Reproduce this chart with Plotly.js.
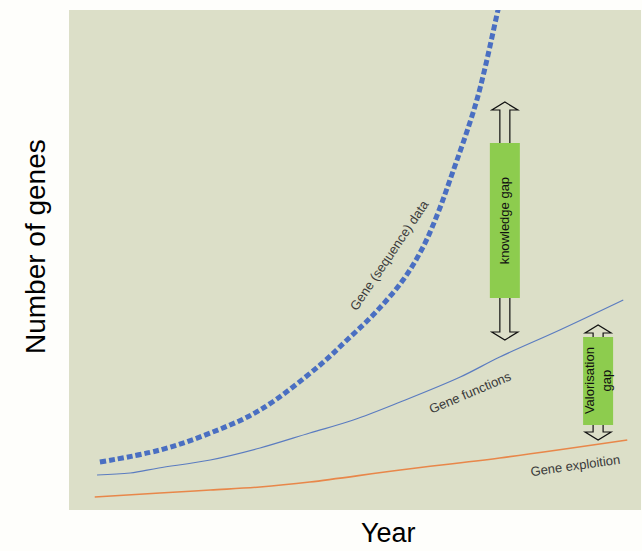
<!DOCTYPE html>
<html>
<head>
<meta charset="utf-8">
<script src="https://cdn.plot.ly/plotly-3.0.1.min.js"></script>
<style>html,body{margin:0;padding:0;background:#fff;}#chart{width:642px;height:551px;}</style>
</head>
<body>
<div id="chart"></div>
<script>
// Series (arbitrary units: year 0-100, number of genes 0-100)
const seqX = [5.4, 15.9, 24.7, 33.4, 43.9, 48.6, 53.5, 58.4, 61.9, 64.5, 66.6, 71.3, 75.0, 75.8];
const seqY = [9.6, 12.0, 15.4, 20.0, 29.0, 34.0, 39.4, 46.0, 52.6, 59.4, 66.0, 82.0, 100.0, 104.0];

const funcX = [4.9, 10.7, 15.7, 24.7, 33.4, 42.1, 49.7, 57.9, 68.4, 75.3, 85.8, 96.9];
const funcY = [7.0, 7.4, 8.4, 10.0, 12.4, 15.4, 18.0, 21.6, 26.6, 30.6, 36.0, 42.0];

const explX = [4.5, 15.9, 24.7, 33.4, 42.1, 57.9, 75.3, 97.6];
const explY = [2.6, 3.4, 4.0, 4.6, 5.6, 8.0, 10.4, 14.0];

// Gap markers: [centre x, box bottom, box top, lower arrow tip, upper arrow tip]
const knowledgeGap = [76.2, 42.4, 73.4, 34.0, 81.6];
const valorisationGap = [92.5, 17.0, 34.6, 14.0, 37.0];

const labels = ["Gene (sequence) data", "Gene functions", "Gene exploition", "knowledge gap", "Valorisation<br>gap"];
const axisTitles = ["Year", "Number of genes"];

const traces = [
  {x: seqX, y: seqY, mode: 'lines', line: {color: '#4a6fc2', width: 5, dash: '6px,3px', shape: 'spline'}, hoverinfo: 'skip'},
  {x: funcX, y: funcY, mode: 'lines', line: {color: '#5b7cc0', width: 1.2, shape: 'spline'}, hoverinfo: 'skip'},
  {x: explX, y: explY, mode: 'lines', line: {color: '#e8874a', width: 1.6, shape: 'spline'}, hoverinfo: 'skip'}
];

// convert px sizes to data units (plot area 572 x 500 px over 100 x 100 units)
const pxX = 100 / 572, pxY = 100 / 500;

function gapShapes(g) {
  const cx = g[0], lo = g[1], hi = g[2], tipLo = g[3], tipHi = g[4];
  const bw = 15 * pxX, sw = 5 * pxX, hw = 13 * pxX, hh = 8 * pxY;
  const up = `M ${cx - sw} ${hi} L ${cx - sw} ${tipHi - hh} L ${cx - hw} ${tipHi - hh} L ${cx} ${tipHi} L ${cx + hw} ${tipHi - hh} L ${cx + sw} ${tipHi - hh} L ${cx + sw} ${hi}`;
  const dn = `M ${cx - sw} ${lo} L ${cx - sw} ${tipLo + hh} L ${cx - hw} ${tipLo + hh} L ${cx} ${tipLo} L ${cx + hw} ${tipLo + hh} L ${cx + sw} ${tipLo + hh} L ${cx + sw} ${lo}`;
  return [
    {type: 'path', xref: 'x', yref: 'y', path: up, line: {color: '#111', width: 1.2}},
    {type: 'path', xref: 'x', yref: 'y', path: dn, line: {color: '#111', width: 1.2}},
    {type: 'rect', xref: 'x', yref: 'y', x0: cx - bw, x1: cx + bw, y0: lo, y1: hi, fillcolor: '#8dcc4e', line: {width: 0}}
  ];
}

const FF = 'Liberation Sans, Arial, sans-serif';
const lblFont = {family: FF, size: 13, color: '#3a3a3a'};
const gapFont = {family: FF, size: 13, color: '#111'};
const annotations = [
  {x: 55.9, y: 51.0, text: labels[0], textangle: -56, showarrow: false, font: lblFont},
  {x: 70.1, y: 23.6, text: labels[1], textangle: -23, showarrow: false, font: lblFont},
  {x: 88.5, y: 9.0, text: labels[2], textangle: -8, showarrow: false, font: lblFont},
  {x: knowledgeGap[0], y: (knowledgeGap[1] + knowledgeGap[2]) / 2, text: labels[3], textangle: -90, showarrow: false, font: gapFont},
  {x: valorisationGap[0], y: (valorisationGap[1] + valorisationGap[2]) / 2, text: labels[4], textangle: -90, showarrow: false, font: gapFont},
  {xref: 'paper', yref: 'paper', x: 0.558, y: -0.079, yanchor: 'bottom', text: axisTitles[0], showarrow: false, font: {family: FF, size: 27, color: '#000'}},
  {xref: 'paper', yref: 'paper', x: -0.0594, xanchor: 'center', y: 0.526, text: axisTitles[1], textangle: -90, showarrow: false, font: {family: FF, size: 28, color: '#000'}}
];

const layout = {
  width: 642, height: 551,
  margin: {l: 69, r: 1, t: 10, b: 41, pad: 0},
  paper_bgcolor: '#fefefb',
  plot_bgcolor: '#dcdfc8',
  showlegend: false,
  xaxis: {range: [0, 100], showgrid: false, zeroline: false, showticklabels: false, showline: false, ticks: '', fixedrange: true},
  yaxis: {range: [0, 100], showgrid: false, zeroline: false, showticklabels: false, showline: false, ticks: '', fixedrange: true},
  shapes: [].concat(gapShapes(knowledgeGap), gapShapes(valorisationGap)),
  annotations: annotations
};

Plotly.newPlot('chart', traces, layout, {displayModeBar: false, staticPlot: true});
</script>
</body>
</html>
